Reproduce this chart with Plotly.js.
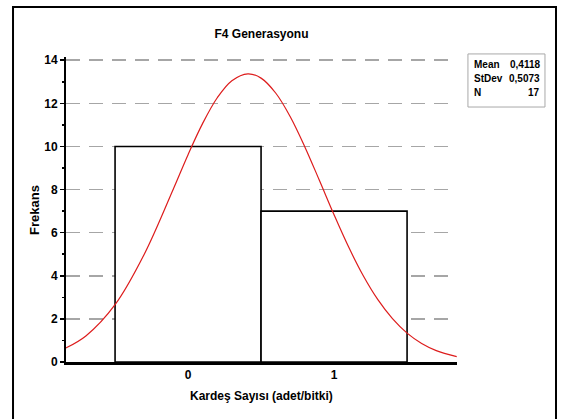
<!DOCTYPE html>
<html>
<head>
<meta charset="utf-8">
<script src="https://cdn.plot.ly/plotly-3.0.1.min.js"></script>
<style>
  html, body { margin: 0; padding: 0; background: #fff; }
  #chart { width: 569px; height: 419px; }
</style>
</head>
<body>
<div id="chart"></div>
<script>
// Histogram bins (category centres) and counts
const binCenters = [0, 1];
const binCounts = [10, 7];

// Fitted normal curve
const curveX = [-0.84, -0.7, -0.5, -0.3, -0.1, 0, 0.1, 0.2, 0.3, 0.41, 0.5, 0.6, 0.7, 0.8, 0.9, 1.0, 1.1, 1.2, 1.3, 1.4, 1.5, 1.6, 1.7, 1.84];
const curveY = [0.64, 1.21, 2.66, 5.0, 8.04, 9.62, 11.07, 12.26, 13.05, 13.37, 13.17, 12.48, 11.38, 9.98, 8.42, 6.83, 5.33, 4.0, 2.89, 2.01, 1.34, 0.86, 0.53, 0.25];

// Axis ticks
const xTickVals = [0, 1];
const xTickText = ['0', '1'];
const yTickVals = [0, 2, 4, 6, 8, 10, 12, 14];

// Stats box
const statLabels = ['Mean', 'StDev', 'N'];
const statValues = ['0,4118', '0,5073', '17'];

const titleText = 'F4 Generasyonu';
const xTitle = 'Kardeş Sayısı (adet/bitki)';
const yTitle = 'Frekans';

const narrow = 'Liberation Sans Narrow, Arial Narrow, Liberation Sans, Arial, sans-serif';
const sans = 'Liberation Sans, Arial, sans-serif';

const traces = [
  {
    type: 'bar',
    x: binCenters,
    y: binCounts,
    width: 1,
    marker: { color: '#ffffff', line: { color: '#000000', width: 1.6 } },
    hoverinfo: 'skip'
  },
  {
    type: 'scatter',
    mode: 'lines',
    x: curveX,
    y: curveY,
    line: { color: '#dd1c1c', width: 1.2, shape: 'spline' },
    hoverinfo: 'skip'
  }
];

const statAnn = [];
const statY = [0.974, 0.928, 0.882];
statLabels.forEach((lab, i) => {
  statAnn.push({ xref: 'paper', yref: 'paper', x: 1.038, y: statY[i], xanchor: 'left', yanchor: 'middle',
    text: '<b>' + lab + '</b>', showarrow: false, font: { family: narrow, size: 10, color: '#000' } });
  statAnn.push({ xref: 'paper', yref: 'paper', x: 1.217, y: statY[i], xanchor: 'right', yanchor: 'middle',
    text: '<b>' + statValues[i] + '</b>', showarrow: false, font: { family: narrow, size: 10, color: '#000' } });
});

const layout = {
  width: 569,
  height: 419,
  margin: { l: 66, r: 112, t: 57, b: 57 },
  paper_bgcolor: '#ffffff',
  plot_bgcolor: '#ffffff',
  showlegend: false,
  bargap: 0,
  title: {
    text: '<b>' + titleText + '</b>',
    xref: 'paper', x: 0.5, xanchor: 'center',
    yref: 'container', y: 1 - 34 / 419, yanchor: 'middle',
    font: { family: narrow, size: 12, color: '#000' }
  },
  xaxis: {
    range: [-0.836, 1.842],
    tickvals: xTickVals,
    ticktext: xTickText,
    ticks: '',
    showgrid: false,
    zeroline: false,
    showline: true,
    linecolor: '#000',
    linewidth: 2.5,
    tickfont: { family: sans, size: 12, color: '#000', weight: 'bold' },
    fixedrange: true
  },
  yaxis: {
    range: [0, 14.15],
    tickvals: yTickVals,
    ticks: 'outside',
    ticklen: 4,
    tickwidth: 1.5,
    tickcolor: '#000',
    minor: { dtick: 1, tick0: 0, ticks: 'outside', ticklen: 2, tickwidth: 1.5, tickcolor: '#000', showgrid: false },
    showgrid: true,
    gridcolor: '#a6a6a6',
    gridwidth: 1.5,
    griddash: '14px,9px',
    zeroline: false,
    showline: true,
    linecolor: '#000',
    linewidth: 2,
    tickfont: { family: sans, size: 12, color: '#000', weight: 'bold' },
    fixedrange: true
  },
  shapes: [
    { type: 'rect', xref: 'paper', yref: 'paper', x0: 1.028, x1: 1.225, y0: 0.836, y1: 1.010,
      line: { color: '#a8a8a8', width: 1 }, fillcolor: 'rgba(0,0,0,0)' },
    { type: 'path', xref: 'paper', yref: 'paper',
      path: 'M -0.1355,-0.25 L -0.1355,1.164 L 1.2532,1.164 L 1.2532,-0.25',
      line: { color: '#000', width: 2 } }
  ],
  annotations: [
    { xref: 'paper', yref: 'paper', x: 0.5, y: (362 - 396) / 305, xanchor: 'center', yanchor: 'middle',
      text: '<b>' + xTitle + '</b>', showarrow: false, font: { family: sans, size: 12, color: '#000' } },
    { xref: 'paper', yref: 'paper', x: (34 - 66) / 391, y: (362 - 210) / 305, xanchor: 'center', yanchor: 'middle',
      textangle: -90, text: '<b>' + yTitle + '</b>', showarrow: false, font: { family: sans, size: 13, color: '#000' } }
  ].concat(statAnn)
};

Plotly.newPlot('chart', traces, layout, { staticPlot: true, displayModeBar: false });
</script>
</body>
</html>
